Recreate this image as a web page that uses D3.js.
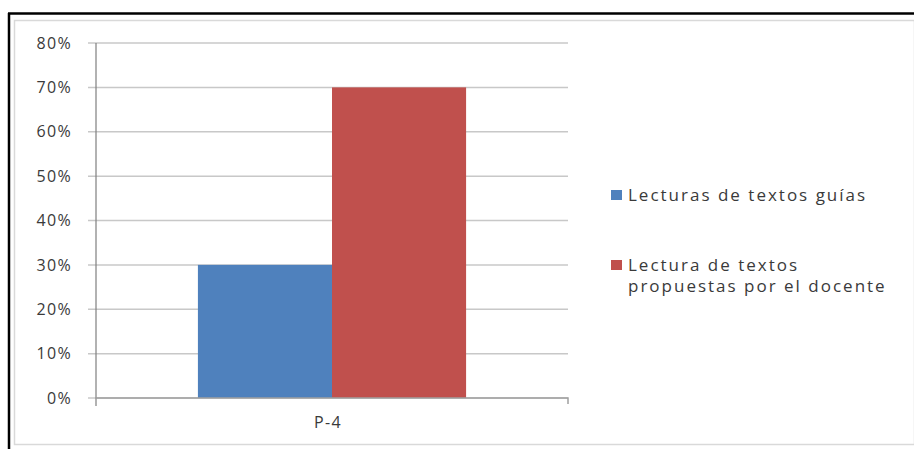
<!DOCTYPE html>
<html><head><meta charset="utf-8">
<script src="https://cdn.jsdelivr.net/npm/d3@7"></script>
<style>body{margin:0;background:#fff}svg{display:block}</style>
</head><body>
<script>
const categories = ["P-4"];
const seriesNames = ["Lecturas de textos guías", "Lectura de textos propuestas por el docente"];
const seriesValues = [[0.30], [0.70]];
const colors = ["#4F81BD", "#C0504D"];
const yTicks = [0,0.1,0.2,0.3,0.4,0.5,0.6,0.7,0.8];

(function(){
const W = 914, H = 449;
const svg = d3.select("body").append("svg").attr("width", W).attr("height", H);
const font = "'Open Sans', sans-serif";

// frames
svg.append("rect").attr("x",14.5).attr("y",20.5).attr("width",W-14).attr("height",424)
  .attr("fill","none").attr("stroke","#d9d9d9").attr("stroke-width",1.5);
svg.append("line").attr("x1",8).attr("x2",W).attr("y1",13.5).attr("y2",13.5).attr("stroke","#000").attr("stroke-width",2.5);
svg.append("line").attr("x1",9).attr("x2",9).attr("y1",13).attr("y2",H).attr("stroke","#000").attr("stroke-width",2.5);

const pL = 96, pR = 568, pT = 43, pB = 398;
const y = d3.scaleLinear().domain([0,0.8]).range([pB, pT]);
const x0 = d3.scaleBand().domain(categories).range([pL, pR]).paddingInner(0).paddingOuter(0.38);
const x1 = d3.scaleBand().domain(d3.range(seriesNames.length)).range([0, x0.bandwidth()]);

// gridlines
svg.append("g").selectAll("line").data(yTicks).join("line")
  .attr("x1", pL-8).attr("x2", pR).attr("y1", d=>y(d)).attr("y2", d=>y(d))
  .attr("stroke","#c8c8c8").attr("stroke-width",1.5);

// bars
categories.forEach((c,ci)=>{
  seriesValues.forEach((vals,si)=>{
    svg.append("rect").attr("x", x0(c)+x1(si)).attr("width", x1.bandwidth())
      .attr("y", y(vals[ci])).attr("height", pB - y(vals[ci])).attr("fill", colors[si]);
  });
});

// y axis
const yAxis = d3.axisLeft(y).tickValues(yTicks).tickFormat(d3.format(".0%")).tickSize(0).tickPadding(24);
const gy = svg.append("g").attr("transform",`translate(${pL},0)`).call(yAxis);
gy.select(".domain").attr("stroke","#7f7f7f").attr("stroke-width",1.2).attr("d",`M0,${pT}V${pB+8}`);
gy.selectAll("text").attr("font-family",font).attr("font-size",16).attr("fill","#3a3a3a")
  .attr("font-weight",500).attr("letter-spacing","1.3px");

// x axis
const xAxis = d3.axisBottom(x0).tickSize(0).tickPadding(19);
const gx = svg.append("g").attr("transform",`translate(0,${pB})`).call(xAxis);
gx.select(".domain").attr("stroke","#a0a0a0").attr("stroke-width",1.5).attr("d",`M${pL},0H${pR}V6`);
gx.selectAll("text").attr("font-family",font).attr("font-size",16).attr("fill","#3a3a3a")
  .attr("font-weight",500).attr("letter-spacing","1.3px").attr("dx","-4");

// legend
const legend = [
  {lines:[seriesNames[0]], y:195},
  {lines:["Lectura de textos","propuestas por el docente"], y:265}
];
legend.forEach((l,i)=>{
  svg.append("rect").attr("x",611).attr("y",l.y-5).attr("width",11).attr("height",10).attr("fill",colors[i]);
  const t = svg.append("text").attr("x",628).attr("y",l.y)
    .attr("font-family",font).attr("font-size",17).attr("font-weight",500).attr("fill","#3a3a3a").attr("letter-spacing","2px");
  l.lines.forEach((s,j)=>t.append("tspan").attr("x",628).attr("dy", j===0?"0.35em":"1.25em").text(s));
});
})();
</script>
</body></html>
